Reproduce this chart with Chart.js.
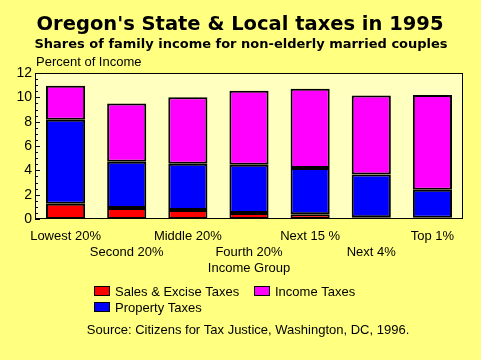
<!DOCTYPE html>
<html>
<head>
<meta charset="utf-8">
<script src="https://cdn.jsdelivr.net/npm/chart.js@4/dist/chart.umd.min.js"></script>
<style>
  html, body { margin: 0; padding: 0; background: #FFFF80; }
  #wrap { width: 481px; height: 360px; }
</style>
</head>
<body>
<div id="wrap"><canvas id="taxChart" width="481" height="360"></canvas></div>
<script>
// Data (percent of family income)
const groups = ['Lowest 20%', 'Second 20%', 'Middle 20%', 'Fourth 20%', 'Next 15 %', 'Next 4%', 'Top 1%'];
const salesTaxes = [1.25, 0.9, 0.75, 0.5, 0.4, 0.15, 0.1];
const propertyTaxes = [6.9, 3.8, 3.8, 3.95, 3.8, 3.5, 2.3];
const incomeTaxes = [2.8, 4.8, 5.45, 6.1, 6.5, 6.5, 7.8];
const yTicks = [0, 2, 4, 6, 8, 10, 12];

const FONT = 'Arial, "Liberation Sans", sans-serif';
const HEAVY = '"DejaVu Sans", Arial, sans-serif';

// alternate the category labels over two rows
const labels = groups.map((g, i) => (i % 2 === 0 ? [g, ''] : ['', g]));

// legend order as in the picture: Sales, Income / Property
const legendOrder = [0, 2, 1];

const decorPlugin = {
  id: 'decor',
  beforeDraw(chart) {
    const { ctx, chartArea: a } = chart;
    ctx.save();
    ctx.fillStyle = '#FFFFC0';
    ctx.fillRect(a.left, a.top, a.right - a.left, a.bottom - a.top);
    ctx.restore();
  },
  afterDraw(chart) {
    const { ctx, chartArea: a } = chart;
    const y = chart.scales.y;
    ctx.save();
    // plot border
    ctx.strokeStyle = '#000';
    ctx.lineWidth = 1;
    ctx.strokeRect(a.left + 0.5, a.top + 0.5, a.right - a.left - 1, a.bottom - a.top - 1);
    // minor/major ticks on the left axis, pointing inward
    for (let v = 0; v <= 12; v += 0.5) {
      const py = Math.round(y.getPixelForValue(v)) + 0.5;
      const len = v % 2 === 0 ? 5 : 3;
      ctx.beginPath();
      ctx.moveTo(a.left, py);
      ctx.lineTo(a.left + len, py);
      ctx.stroke();
    }

    ctx.fillStyle = '#000';
    ctx.textBaseline = 'middle';
    // titles
    ctx.textAlign = 'center';
    ctx.font = 'bold 19.5px ' + HEAVY;
    ctx.fillText("Oregon's State & Local taxes in 1995", 240, 25);
    ctx.font = 'bold 13px ' + HEAVY;
    ctx.fillText('Shares of family income for non-elderly married couples', 241, 45);
    ctx.textAlign = 'left';
    ctx.font = '13px ' + FONT;
    ctx.fillText('Percent of Income', a.left + 1, 62);
    ctx.textAlign = 'center';
    ctx.fillText('Income Group', (a.left + a.right) / 2, 268);

    // legend
    const ds = chart.data.datasets;
    const spots = [[94, 291], [254, 291], [94, 307]];
    legendOrder.forEach((di, k) => {
      const [lx, ly] = spots[k];
      ctx.fillStyle = ds[di].backgroundColor;
      ctx.fillRect(lx, ly - 5, 16, 10);
      ctx.strokeStyle = '#000';
      ctx.strokeRect(lx + 0.5, ly - 4.5, 15, 9);
      ctx.fillStyle = '#000';
      ctx.textAlign = 'left';
      ctx.fillText(ds[di].label, lx + 21, ly + 1);
    });

    // source line
    ctx.textAlign = 'center';
    ctx.fillText('Source: Citizens for Tax Justice, Washington, DC, 1996.', 248, 330);
    ctx.restore();
  }
};

const ctx = document.getElementById('taxChart').getContext('2d');
const taxChart = new Chart(ctx, {
  type: 'bar',
  data: {
    labels: labels,
    datasets: [
      { label: 'Sales & Excise Taxes', data: salesTaxes, backgroundColor: '#FF0000' },
      { label: 'Property Taxes', data: propertyTaxes, backgroundColor: '#0000FF' },
      { label: 'Income Taxes', data: incomeTaxes, backgroundColor: '#FF00FF' }
    ]
  },
  options: {
    responsive: false,
    animation: false,
    layout: { padding: { top: 73, right: 18, bottom: 0, left: 0 } },
    datasets: {
      bar: {
        borderColor: '#000',
        borderWidth: 2,
        borderSkipped: false,
        barPercentage: 0.64,
        categoryPercentage: 1
      }
    },
    plugins: {
      legend: { display: false },
      title: { display: false },
      tooltip: { enabled: false }
    },
    scales: {
      x: {
        stacked: true,
        grid: { display: false, drawTicks: false },
        border: { display: false },
        ticks: {
          color: '#000',
          font: { family: FONT, size: 13, lineHeight: 1.25 },
          padding: 9,
          maxRotation: 0,
          autoSkip: false
        },
        afterFit(scale) { scale.height = 141; }
      },
      y: {
        stacked: true,
        min: 0,
        max: 12,
        afterBuildTicks(scale) { scale.ticks = yTicks.map(v => ({ value: v })); },
        grid: { display: false, drawTicks: false },
        border: { display: false },
        ticks: {
          color: '#000',
          font: { family: FONT, size: 14 },
          padding: 3
        },
        afterFit(scale) { scale.width = 35; }
      }
    }
  },
  plugins: [decorPlugin]
});
</script>
</body>
</html>
